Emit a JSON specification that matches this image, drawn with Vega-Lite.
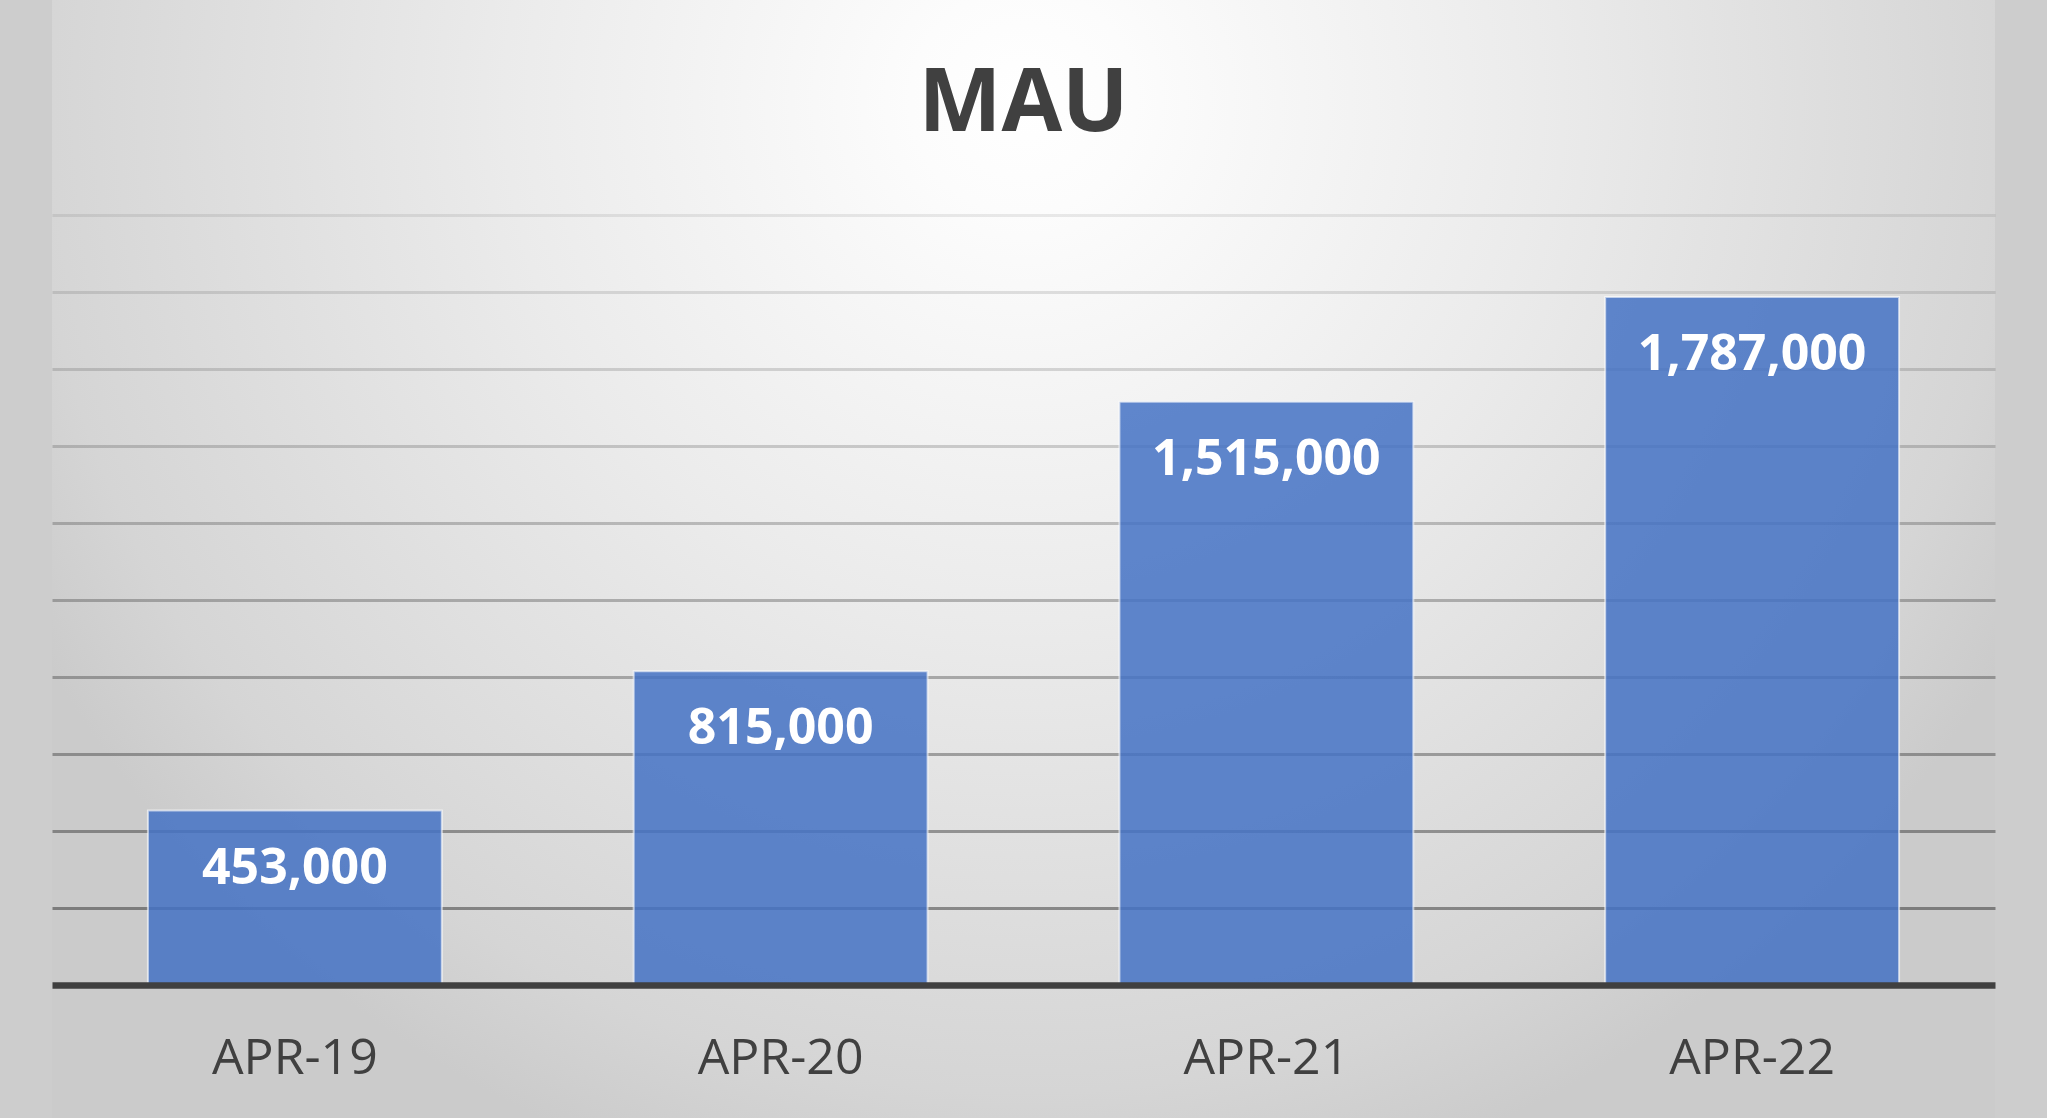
{
  "$schema": "https://vega.github.io/schema/vega-lite/v6.json",
  "width": 1943,
  "height": 1118,
  "autosize": {"type": "none"},
  "padding": {"left": 52, "right": 52, "top": 0, "bottom": 0},
  "background": "#cdcdcd",
  "view": {
    "stroke": null,
    "fill": {
      "gradient": "radial",
      "x1": 0.5, "y1": 0.264, "r1": 0,
      "x2": 0.5, "y2": 0.264, "r2": 0.58,
      "stops": [
        {"offset": 0, "color": "#ffffff"},
        {"offset": 0.1, "color": "#fcfcfc"},
        {"offset": 0.46, "color": "#ebebeb"},
        {"offset": 0.88, "color": "#d5d5d5"},
        {"offset": 1, "color": "#cbcbcb"}
      ]
    }
  },
  "title": {
    "text": "MAU",
    "font": "Open Sans",
    "fontSize": 88,
    "fontWeight": "bold",
    "color": "#404040",
    "anchor": "middle",
    "offset": -149
  },
  "data": {
    "values": [
      {"period": "APR-19", "mau": 453000},
      {"period": "APR-20", "mau": 815000},
      {"period": "APR-21", "mau": 1515000},
      {"period": "APR-22", "mau": 1787000}
    ]
  },
  "encoding": {
    "x": {
      "field": "period",
      "type": "nominal",
      "sort": null,
      "scale": {"paddingInner": 0.395, "paddingOuter": 0.1975},
      "axis": {
        "title": null,
        "orient": "bottom",
        "offset": -133,
        "zindex": 1,
        "labelAngle": 0,
        "labelFont": "Open Sans",
        "labelFontSize": 50,
        "labelColor": "#404040",
        "labelPadding": 48,
        "ticks": false,
        "tickSize": 0,
        "domainColor": "#404040",
        "domainWidth": 6.5
      }
    },
    "y": {
      "field": "mau",
      "type": "quantitative",
      "scale": {"domain": [-345455, 2558442], "nice": false, "zero": false},
      "axis": {
        "title": null,
        "labels": false,
        "ticks": false,
        "domain": false,
        "values": [200000, 400000, 600000, 800000, 1000000, 1200000, 1400000, 1600000, 1800000, 2000000],
        "grid": true,
        "gridColor": "#000000",
        "gridWidth": 3,
        "gridOpacity": {
          "condition": [
            {"test": "datum.value >= 1900000", "value": 0.08},
            {"test": "datum.value >= 1700000", "value": 0.11},
            {"test": "datum.value >= 1500000", "value": 0.14},
            {"test": "datum.value >= 1300000", "value": 0.17},
            {"test": "datum.value >= 1100000", "value": 0.21},
            {"test": "datum.value >= 900000", "value": 0.25},
            {"test": "datum.value >= 700000", "value": 0.28},
            {"test": "datum.value >= 500000", "value": 0.31},
            {"test": "datum.value >= 300000", "value": 0.35}
          ],
          "value": 0.39
        }
      }
    }
  },
  "layer": [
    {
      "mark": {
        "type": "bar",
        "fill": "#4472C4",
        "fillOpacity": 0.85,
        "stroke": "#ffffff",
        "strokeOpacity": 0.6,
        "strokeWidth": 2
      },
      "encoding": {"y2": {"datum": 0}}
    },
    {
      "mark": {
        "type": "text",
        "font": "Open Sans",
        "fontSize": 50,
        "fontWeight": "bold",
        "fill": "#ffffff",
        "baseline": "alphabetic",
        "dy": 73
      },
      "encoding": {"text": {"field": "mau", "type": "quantitative", "format": ","}}
    }
  ]
}
